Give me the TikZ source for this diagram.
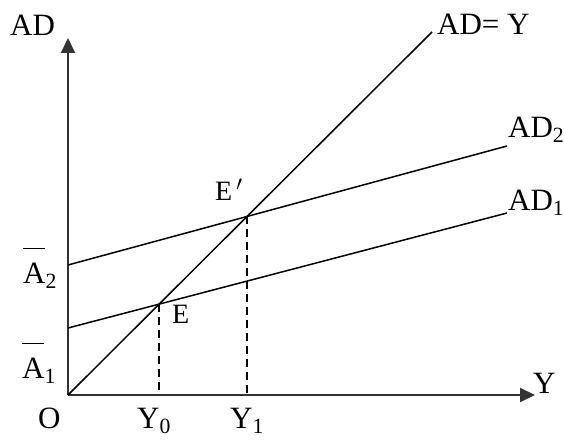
\documentclass[tikz,border=0pt]{standalone}
\usepackage{amsmath}
\usepackage{fontspec}
\setmainfont{Liberation Serif}
\usetikzlibrary{arrows.meta,intersections}

\newcommand{\abar}[1]{\rlap{\rule[1.1em]{0.7em}{0.9pt}}A$_{\text{#1}}$}

\begin{document}
\begin{tikzpicture}[x=1pt, y=-1pt,
    axis/.style={-{Triangle[length=15pt,width=14pt]}, line width=2pt, black!80},
    curve/.style={line width=1.5pt},
    guide/.style={line width=1.4pt, dash pattern=on 8pt off 5pt},
    lbl/.style={anchor=base west, inner sep=0pt, font=\fontsize{31}{36}\selectfont},
    pt/.style={anchor=base west, inner sep=0pt, font=\fontsize{28}{32}\selectfont}
]
\useasboundingbox (0,0) rectangle (564,441);

% axes
\coordinate (O) at (68,395);
\coordinate (ytop) at (68,38);
\coordinate (xend) at (535,395);
\draw[axis] (O) -- (ytop);
\draw[axis] (O) -- (xend);

% lines
\coordinate (a1) at (68,328);
\coordinate (a2) at (68,265);
\coordinate (ad1) at (507,213);
\coordinate (ad2) at (507,146);
\coordinate (ady) at (432,32);
\draw[curve, name path=dy] (O) -- (ady);
\draw[curve, name path=l1] (a1) -- (ad1);
\draw[curve, name path=l2] (a2) -- (ad2);

% equilibria
\path[name intersections={of=dy and l1, by=E}];
\path[name intersections={of=dy and l2, by=E2}];
\coordinate (y0) at (E |- O);
\coordinate (y1) at (E2 |- O);
\draw[guide] (E) -- (y0);
\draw[guide] (E2) -- (y1);

% labels
\node[lbl] (tAD) at (10,36) {AD};
\node[lbl] (tADY) at (437,35) {AD= Y};
\node[lbl] (tAD2) at (508,137) {AD$_{\text{2}}$};
\node[lbl] (tAD1) at (508,210) {AD$_{\text{1}}$};
\node[lbl] (tY) at (533,393) {Y};
\node[lbl] (tO) at (38,428) {O};
\node[lbl] (tY0) at (137,428) {Y$_{\text{0}}$};
\node[lbl] (tY1) at (230,428) {Y$_{\text{1}}$};
\node[lbl] (tA2) at (23,283) {\abar{2}};
\node[lbl] (tA1) at (22,378) {\abar{1}};
\node[pt] (tE) at (172,323) {E};
\node[pt] (tE2) at (215,200) {E$\,'$};
\end{tikzpicture}
\end{document}
